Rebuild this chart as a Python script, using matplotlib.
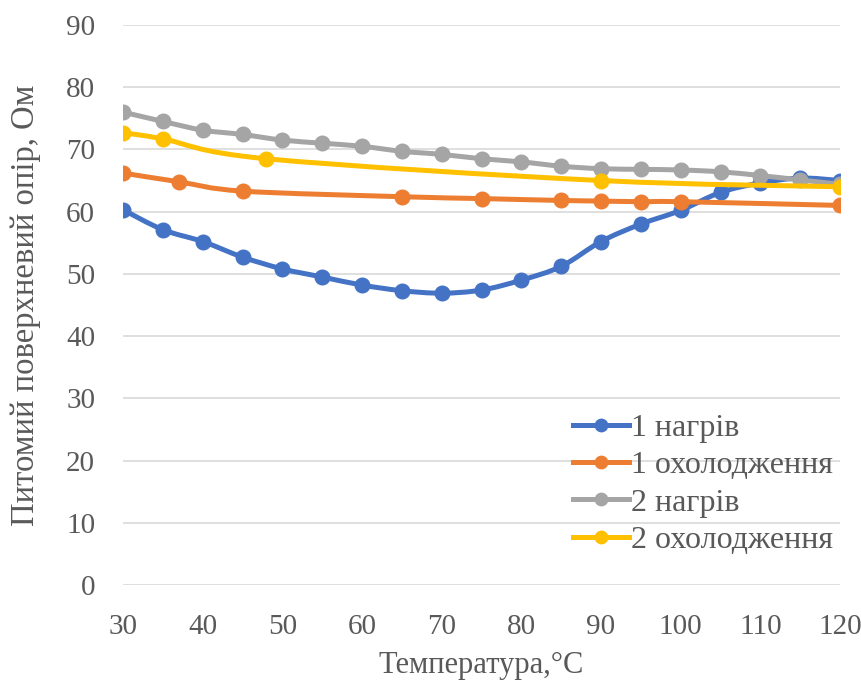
import matplotlib
matplotlib.use('Agg')
import matplotlib.pyplot as plt
from matplotlib.path import Path
from matplotlib.patches import PathPatch
from matplotlib.lines import Line2D

plt.rcParams['font.family'] = ['Liberation Serif', 'DejaVu Serif']

# ---- data ----
labels = ['1 нагрів', '1 охолодження', '2 нагрів', '2 охолодження']
colors = ['#4472C4', '#ED7D31', '#A5A5A5', '#FFC000']

x_heat1 = [30, 35, 40, 45, 50, 55, 60, 65, 70, 75, 80, 85, 90, 95, 100, 105, 110, 115, 120]
y_heat1 = [60.3, 57.1, 55.2, 52.7, 50.8, 49.5, 48.2, 47.3, 46.9, 47.4, 49.0, 51.2, 55.2, 58.0, 60.2, 63.1, 64.6, 65.4, 65.0]

x_cool1 = [30, 37, 45, 65, 75, 85, 90, 95, 100, 120]
y_cool1 = [66.2, 64.8, 63.3, 62.4, 62.1, 61.8, 61.7, 61.6, 61.6, 61.0]

x_heat2 = [30, 35, 40, 45, 50, 55, 60, 65, 70, 75, 80, 85, 90, 95, 100, 105, 110, 115, 120]
y_heat2 = [76.0, 74.5, 73.1, 72.4, 71.5, 71.0, 70.5, 69.7, 69.2, 68.5, 68.0, 67.3, 66.9, 66.8, 66.7, 66.4, 65.8, 65.1, 64.4]

x_cool2 = [30, 35, 48, 90, 120]
y_cool2 = [72.7, 71.7, 68.5, 65.0, 64.0]

xticks = list(range(30, 121, 10))
yticks = list(range(0, 91, 10))
xlabel = 'Температура,°C'
ylabel = 'Питомий поверхневий опір, Ом'

series = [(x_heat1, y_heat1), (x_cool1, y_cool1), (x_heat2, y_heat2), (x_cool2, y_cool2)]


def smooth_path(xs, ys, t=1 / 6):
    verts = [(xs[0], ys[0])]
    codes = [Path.MOVETO]
    n = len(xs)
    for i in range(n - 1):
        p0 = (xs[i - 1], ys[i - 1]) if i > 0 else (xs[i], ys[i])
        p1 = (xs[i], ys[i])
        p2 = (xs[i + 1], ys[i + 1])
        p3 = (xs[i + 2], ys[i + 2]) if i + 2 < n else p2
        c1 = (p1[0] + (p2[0] - p0[0]) * t, p1[1] + (p2[1] - p0[1]) * t)
        c2 = (p2[0] - (p3[0] - p1[0]) * t, p2[1] - (p3[1] - p1[1]) * t)
        verts += [c1, c2, p2]
        codes += [Path.CURVE4] * 3
    return Path(verts, codes)


fig = plt.figure(figsize=(8.62, 6.84), dpi=100)
ax = fig.add_axes([0.1427, 0.1447, 0.8318, 0.8188])

text_color = '#595959'
fs = 23
tfs = 21
lw = 3.6
ms = 10.5

for k, ((xs, ys), c) in enumerate(zip(series, colors)):
    patch = PathPatch(smooth_path(xs, ys), facecolor='none', edgecolor=c,
                      lw=lw, capstyle='round', joinstyle='round', zorder=3 + k)
    ax.add_patch(patch)
    ax.plot(xs, ys, linestyle='none', marker='o', color=c, markersize=ms,
            zorder=3 + k)

ax.set_xlim(30, 120)
ax.set_ylim(0, 90)
ax.set_xticks(xticks)
ax.set_yticks(yticks)
ax.grid(axis='y', color='#D9D9D9', lw=1.2, zorder=0)
for s in ax.spines.values():
    s.set_visible(False)
ax.tick_params(axis='both', length=0, labelsize=tfs, labelcolor=text_color)
ax.tick_params(axis='y', pad=20)
ax.tick_params(axis='x', pad=21)

ax.set_xlabel(xlabel, fontsize=22, color=text_color, labelpad=8)
ax.set_ylabel(ylabel, fontsize=23.5, color=text_color, labelpad=18)

handles = [Line2D([0], [0], color=c, lw=lw, marker='o', markersize=ms * 0.85)
           for c in colors]
leg = ax.legend(handles, labels, loc='lower right', bbox_to_anchor=(1.008, 0.031),
                frameon=False, fontsize=fs, handlelength=1.75, handletextpad=0.05,
                labelspacing=0.25, borderaxespad=0)
for t in leg.get_texts():
    t.set_color(text_color)

fig.savefig('out.png', dpi=100)
